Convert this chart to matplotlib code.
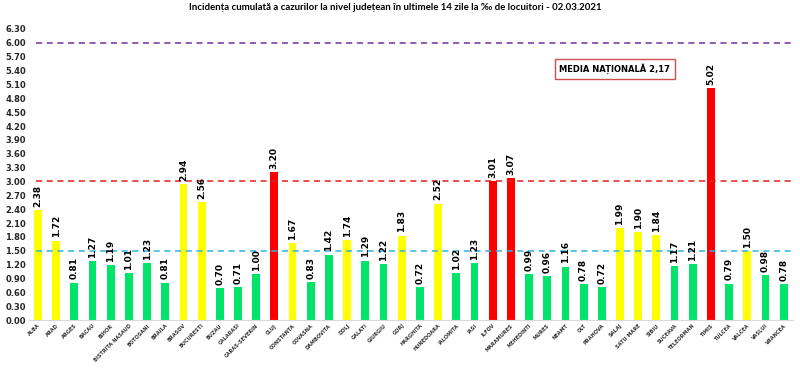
import matplotlib
matplotlib.use("Agg")
import matplotlib.pyplot as plt

counties = ["ALBA", "ARAD", "ARGES", "BACAU", "BIHOR", "BISTRITA NASAUD", "BOTOSANI",
            "BRAILA", "BRASOV", "BUCURESTI", "BUZAU", "CALARASI", "CARAS-SEVERIN", "CLUJ",
            "CONSTANTA", "COVASNA", "DAMBOVITA", "DOLJ", "GALATI", "GIURGIU", "GORJ",
            "HARGHITA", "HUNEDOARA", "IALOMITA", "IASI", "ILFOV", "MARAMURES", "MEHEDINTI",
            "MURES", "NEAMT", "OLT", "PRAHOVA", "SALAJ", "SATU MARE", "SIBIU", "SUCEAVA",
            "TELEORMAN", "TIMIS", "TULCEA", "VALCEA", "VASLUI", "VRANCEA"]
values = [2.38, 1.72, 0.81, 1.27, 1.19, 1.01, 1.23, 0.81, 2.94, 2.56, 0.70, 0.71, 1.00,
          3.20, 1.67, 0.83, 1.42, 1.74, 1.29, 1.22, 1.83, 0.72, 2.52, 1.02, 1.23, 3.01,
          3.07, 0.99, 0.96, 1.16, 0.78, 0.72, 1.99, 1.90, 1.84, 1.17, 1.21, 5.02, 0.79,
          1.50, 0.98, 0.78]
yticks = [0.00, 0.30, 0.60, 0.90, 1.20, 1.50, 1.80, 2.10, 2.40, 2.70, 3.00, 3.30, 3.60,
          3.90, 4.20, 4.50, 4.80, 5.10, 5.40, 5.70, 6.00, 6.30]
thresholds = [1.5, 3.0, 6.0]
threshold_colors = ["#2CB5E0", "#E02020", "#7030A0"]
title = "Incidența cumulată a cazurilor la nivel județean în ultimele 14 zile la ‰ de locuitori - 02.03.2021"
media_text = "MEDIA NAȚIONALĂ 2,17"

def color_for(v):
    if v >= 3.0:
        return "#FF0000"
    if v >= 1.5:
        return "#FFFF00"
    return "#00E46A"

fig = plt.figure(figsize=(8, 3.71), dpi=100)
ax = fig.add_axes([0.036, 0.137, 0.955, 0.785])
x = list(range(len(counties)))
bars = ax.bar(x, values, width=0.43, color=[color_for(v) for v in values])
for xi, v in zip(x, values):
    ax.text(xi, v + 0.07, f"{v:.2f}", rotation=90, ha="center", va="bottom",
            fontsize=6.5, fontweight="bold")
for t, c in zip(thresholds, threshold_colors):
    ax.hlines(t, -0.1, len(counties) - 0.5, colors=c, linestyles=(0, (4, 3)), linewidth=1.1)

ax.set_xlim(-0.5, len(counties) - 0.5)
ax.set_ylim(0, 6.3)
ax.set_yticks(yticks)
ax.set_yticklabels([f"{t:.2f}" for t in yticks], fontsize=6, fontweight="bold", color="#262626")
ax.set_xticks(x)
ax.set_xticklabels(counties, rotation=45, ha="right", rotation_mode="anchor",
                   fontsize=3.6, fontweight="bold", color="#333333")
ax.tick_params(axis="both", length=0, pad=2)
for s in ["top", "right", "left"]:
    ax.spines[s].set_visible(False)
ax.spines["bottom"].set_color("#D9D9D9")

ax.text(31.7, 5.44, media_text, ha="center", va="center", fontsize=6, fontweight="bold",
        bbox=dict(boxstyle="square,pad=0.55", facecolor="white", edgecolor="#D05050", linewidth=1))

fig.text(0.4945, 0.981, title, ha="center", va="center", fontsize=6.9, fontweight="bold",
         family=["Lato", "DejaVu Sans"])
fig.savefig("out.png", dpi=100)
